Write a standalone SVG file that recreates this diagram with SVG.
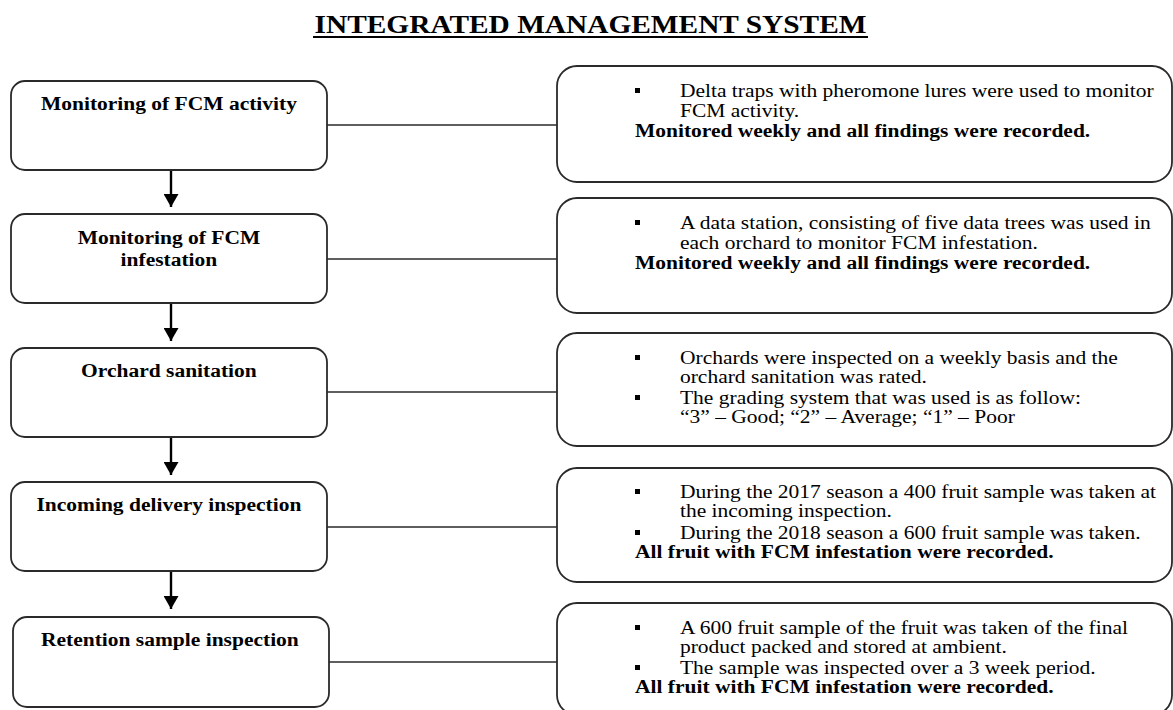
<svg xmlns="http://www.w3.org/2000/svg" width="1173" height="710" viewBox="0 0 1173 710">
<style>
.box{fill:#fff;stroke:#2a2a2a;stroke-width:1.8}
.conn{stroke:#2a2a2a;stroke-width:1.6;fill:none}
.arr{stroke:#000;stroke-width:2.4;fill:none}
.t{font-family:"Liberation Serif","Times New Roman",serif;font-size:18px;fill:#000}
.b{font-weight:bold}
.lbl{font-family:"Liberation Serif","Times New Roman",serif;font-size:18px;font-weight:bold;text-anchor:middle;fill:#000}
.title{font-family:"Liberation Serif","Times New Roman",serif;font-size:24.6px;font-weight:bold;text-anchor:middle;fill:#000}
.bul{fill:#000}
</style>
<defs>
<marker id="ah" markerWidth="13" markerHeight="15" viewBox="0 0 13 15" refX="13" refY="7.5" orient="auto" markerUnits="userSpaceOnUse">
<path d="M0,0 L13,7.5 L0,15 Z" fill="#000"/>
</marker>
</defs>
<rect width="1173" height="710" fill="#fff"/>
<g id="title">
<text class="title" transform="scale(1.194 1)" x="494.6" y="33">INTEGRATED MANAGEMENT SYSTEM</text>
<line x1="313" y1="37" x2="868" y2="37" stroke="#000" stroke-width="2"/>
</g>
<g id="connectors">
<line class="conn" x1="327" y1="125" x2="557" y2="125"/>
<line class="conn" x1="327" y1="259" x2="557" y2="259"/>
<line class="conn" x1="327" y1="392" x2="557" y2="392"/>
<line class="conn" x1="327" y1="527" x2="557" y2="527"/>
<line class="conn" x1="329" y1="662" x2="557" y2="662"/>
<line class="arr" x1="171" y1="171" x2="171" y2="207" marker-end="url(#ah)"/>
<line class="arr" x1="171" y1="304" x2="171" y2="341" marker-end="url(#ah)"/>
<line class="arr" x1="171" y1="438" x2="171" y2="475" marker-end="url(#ah)"/>
<line class="arr" x1="171" y1="572" x2="171" y2="609" marker-end="url(#ah)"/>
</g>
<g id="n1">
<rect class="box" x="11" y="81" width="316" height="89" rx="14"/>
<text class="lbl" transform="scale(1.194 1)" x="141.5" y="110">Monitoring of FCM activity</text>
</g>
<g id="n2">
<rect class="box" x="11" y="214" width="316" height="89" rx="14"/>
<text class="lbl" transform="scale(1.194 1)" x="141.5" y="244">Monitoring of FCM</text>
<text class="lbl" transform="scale(1.194 1)" x="141.5" y="266">infestation</text>
</g>
<g id="n3">
<rect class="box" x="11" y="348" width="316" height="89" rx="14"/>
<text class="lbl" transform="scale(1.194 1)" x="141.5" y="377">Orchard sanitation</text>
</g>
<g id="n4">
<rect class="box" x="11" y="482" width="316" height="89" rx="14"/>
<text class="lbl" transform="scale(1.194 1)" x="141.5" y="511">Incoming delivery inspection</text>
</g>
<g id="n5">
<rect class="box" x="13" y="617" width="316" height="90" rx="14"/>
<text class="lbl" transform="scale(1.194 1)" x="142.3" y="646">Retention sample inspection</text>
</g>
<g id="r1">
<rect class="box" x="557" y="66" width="615" height="116" rx="20"/>
<rect class="bul" x="635" y="88" width="5" height="5"/>
<text class="t" transform="scale(1.194 1)" x="569.5" y="97">Delta traps with pheromone lures were used to monitor</text>
<text class="t" transform="scale(1.194 1)" x="569.5" y="117">FCM activity.</text>
<text class="t b" transform="scale(1.194 1)" x="531.8" y="137">Monitored weekly and all findings were recorded.</text>
</g>
<g id="r2">
<rect class="box" x="557" y="198" width="615" height="115" rx="20"/>
<rect class="bul" x="635" y="220" width="5" height="5"/>
<text class="t" transform="scale(1.194 1)" x="569.5" y="229">A data station, consisting of five data trees was used in</text>
<text class="t" transform="scale(1.194 1)" x="569.5" y="249">each orchard to monitor FCM infestation.</text>
<text class="t b" transform="scale(1.194 1)" x="531.8" y="269">Monitored weekly and all findings were recorded.</text>
</g>
<g id="r3">
<rect class="box" x="557" y="333" width="615" height="113" rx="20"/>
<rect class="bul" x="635" y="355" width="5" height="5"/>
<text class="t" transform="scale(1.194 1)" x="569.5" y="364">Orchards were inspected on a weekly basis and the</text>
<text class="t" transform="scale(1.194 1)" x="569.5" y="383">orchard sanitation was rated.</text>
<rect class="bul" x="635" y="395" width="5" height="5"/>
<text class="t" transform="scale(1.194 1)" x="569.5" y="404">The grading system that was used is as follow:</text>
<text class="t" transform="scale(1.194 1)" x="569.5" y="423">“3” – Good; “2” – Average; “1” – Poor</text>
</g>
<g id="r4">
<rect class="box" x="557" y="468" width="615" height="114" rx="20"/>
<rect class="bul" x="635" y="489" width="5" height="5"/>
<text class="t" transform="scale(1.194 1)" x="569.5" y="498">During the 2017 season a 400 fruit sample was taken at</text>
<text class="t" transform="scale(1.194 1)" x="569.5" y="517">the incoming inspection.</text>
<rect class="bul" x="635" y="530" width="5" height="5"/>
<text class="t" transform="scale(1.194 1)" x="569.5" y="539">During the 2018 season a 600 fruit sample was taken.</text>
<text class="t b" transform="scale(1.194 1)" x="531.8" y="558">All fruit with FCM infestation were recorded.</text>
</g>
<g id="r5">
<rect class="box" x="557" y="603" width="615" height="112" rx="20"/>
<rect class="bul" x="635" y="625" width="5" height="5"/>
<text class="t" transform="scale(1.194 1)" x="569.5" y="634">A 600 fruit sample of the fruit was taken of the final</text>
<text class="t" transform="scale(1.194 1)" x="569.5" y="653">product packed and stored at ambient.</text>
<rect class="bul" x="635" y="665" width="5" height="5"/>
<text class="t" transform="scale(1.194 1)" x="569.5" y="674">The sample was inspected over a 3 week period.</text>
<text class="t b" transform="scale(1.194 1)" x="531.8" y="693">All fruit with FCM infestation were recorded.</text>
</g>
</svg>
